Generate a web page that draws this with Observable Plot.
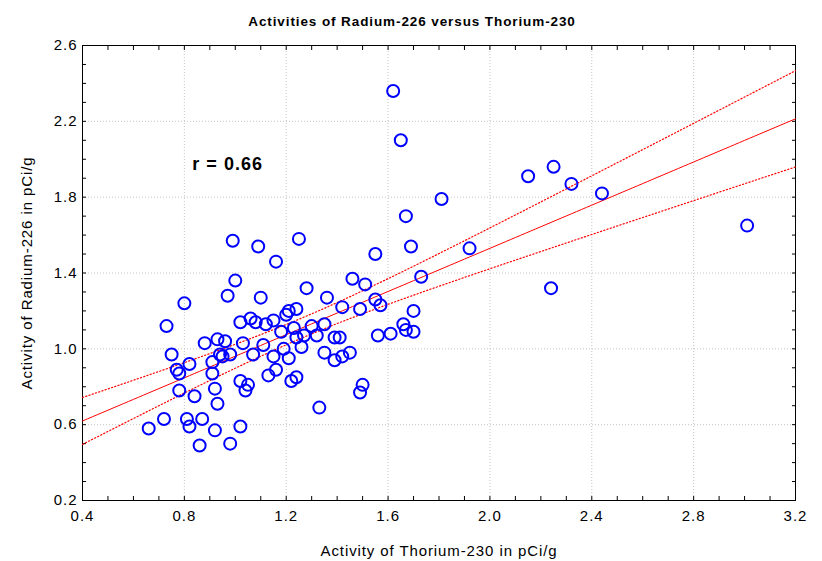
<!DOCTYPE html>
<html>
<head>
<meta charset="utf-8">
<script src="https://cdn.jsdelivr.net/npm/d3@7"></script>
<script src="https://cdn.jsdelivr.net/npm/@observablehq/plot@0.6"></script>
<style>
  html, body { margin: 0; padding: 0; background: #fff; }
  g[aria-label$="tick label"] text { letter-spacing: 1px; }
  g[aria-label$="axis label"] text { letter-spacing: 0.9px; }
  g.rlabel text { letter-spacing: 1px; }
  g.title text { letter-spacing: 0.9px; }
</style>
</head>
<body>
<div id="chart"></div>
<script>
// Activity of Thorium-230 (pCi/g)
const th230 = [
  1.62, 1.65, 1.81, 1.67, 1.69, 1.55, 1.92, 2.15, 2.25, 2.32,
  2.44, 3.01, 2.24, 1.46, 1.51, 1.73, 0.99, 1.09, 1.25, 1.16,
  1.00, 0.97, 1.10, 1.28, 1.36, 0.80, 1.55, 1.57, 1.42, 1.49,
  1.70, 1.24, 1.21, 1.20, 0.73, 1.02, 1.06, 1.08, 1.12, 1.15,
  1.18, 1.23, 1.30, 1.35, 1.24, 1.27, 1.32, 1.39, 1.41, 1.56,
  1.61, 1.66, 1.67, 1.70, 0.88, 0.93, 0.96, 1.03, 1.11, 1.26,
  1.19, 0.94, 0.98, 0.95, 1.07, 1.15, 1.21, 1.35, 1.39, 1.42,
  1.45, 0.75, 0.82, 0.91, 0.77, 0.78, 0.91, 1.13, 1.16, 1.22,
  1.24, 1.02, 1.05, 1.04, 1.50, 1.49, 0.78, 0.84, 0.92, 0.93,
  1.33, 0.72, 0.81, 0.87, 0.66, 0.82, 0.92, 1.02, 0.86, 0.98
];
// Activity of Radium-226 (pCi/g)
const ra226 = [
  2.36, 2.10, 1.79, 1.70, 1.54, 1.50, 1.53, 1.91, 1.96, 1.87,
  1.82, 1.65, 1.32, 1.37, 1.34, 1.38, 1.57, 1.54, 1.58, 1.46,
  1.36, 1.28, 1.27, 1.32, 1.27, 1.24, 1.26, 1.23, 1.22, 1.21,
  1.20, 1.21, 1.20, 1.18, 1.12, 1.14, 1.16, 1.14, 1.13, 1.15,
  1.09, 1.11, 1.12, 1.13, 1.06, 1.07, 1.07, 1.06, 1.06, 1.07,
  1.08, 1.13, 1.10, 1.09, 1.03, 1.05, 1.04, 1.03, 1.02, 1.01,
  1.00, 0.97, 0.97, 0.96, 0.97, 0.96, 0.95, 0.98, 0.94, 0.96,
  0.98, 0.97, 0.92, 0.93, 0.89, 0.87, 0.87, 0.86, 0.89, 0.83,
  0.85, 0.83, 0.81, 0.78, 0.81, 0.77, 0.78, 0.75, 0.79, 0.71,
  0.69, 0.63, 0.63, 0.63, 0.58, 0.59, 0.57, 0.59, 0.49, 0.50
];
const xTicks = [0.4, 0.8, 1.2, 1.6, 2.0, 2.4, 2.8, 3.2];
const yTicks = [0.2, 0.6, 1.0, 1.4, 1.8, 2.2, 2.6];
const xMinor = d3.range(4, 33).map(d => d / 10);
const yMinor = d3.range(2, 27).map(d => d / 10);
const titleText = "Activities of Radium-226 versus Thorium-230";
const xLabel = "Activity of Thorium-230 in pCi/g";
const yLabel = "Activity of Radium-226 in pCi/g";
const rText = "r = 0.66";
const rPos = {x: 0.97, y: 1.975};
const tCrit = 1.984; // 95% two-sided, df = 98

const data = th230.map((x, i) => ({x, y: ra226[i]}));

// least-squares fit and 95% confidence band for the mean
const n = data.length;
const mx = d3.mean(data, d => d.x), my = d3.mean(data, d => d.y);
const sxx = d3.sum(data, d => (d.x - mx) ** 2);
const sxy = d3.sum(data, d => (d.x - mx) * (d.y - my));
const slope = sxy / sxx, intercept = my - slope * mx;
const s = Math.sqrt(d3.sum(data, d => (d.y - intercept - slope * d.x) ** 2) / (n - 2));
const fit = d3.range(0, 141).map(i => {
  const x = 0.4 + i * 0.02;
  const yh = intercept + slope * x;
  const h = tCrit * s * Math.sqrt(1 / n + (x - mx) ** 2 / sxx);
  return {x, y: yh, lo: yh - h, hi: yh + h};
});

const font = "'Liberation Sans', Arial, Helvetica, sans-serif";
const noText = () => "";

const chart = Plot.plot({
  width: 822,
  height: 561,
  marginLeft: 82,
  marginRight: 27,
  marginTop: 45,
  marginBottom: 61,
  style: {fontFamily: font, fontSize: "15px", color: "#000", background: "#fff"},
  x: {domain: [0.4, 3.2]},
  y: {domain: [0.2, 2.6]},
  marks: [
    Plot.gridX(xTicks, {stroke: "#c4c4c4", strokeOpacity: 1, strokeDasharray: "1,2"}),
    Plot.gridY(yTicks, {stroke: "#c4c4c4", strokeOpacity: 1, strokeDasharray: "1,2"}),
    // inward minor/major ticks on all four sides
    Plot.axisX(xMinor, {anchor: "bottom", tickSize: 4, dy: -4, tickFormat: noText, label: null}),
    Plot.axisX(xMinor, {anchor: "top", tickSize: 4, dy: 4, tickFormat: noText, label: null}),
    Plot.axisY(yMinor, {anchor: "left", tickSize: 4, dx: 4, tickFormat: noText, label: null}),
    Plot.axisY(yMinor, {anchor: "right", tickSize: 4, dx: -4, tickFormat: noText, label: null}),
    // labels
    Plot.axisX(xTicks, {anchor: "bottom", tickSize: 0, tickPadding: 10, tickFormat: d3.format(".1f"), fontSize: 15,
      label: xLabel, labelAnchor: "center", labelOffset: 55, labelArrow: "none"}),
    Plot.axisY(yTicks, {anchor: "left", tickSize: 0, tickPadding: 5, tickFormat: d3.format(".1f"), fontSize: 15,
      label: yLabel, labelAnchor: "center", labelOffset: 61, labelArrow: "none"}),
    Plot.frame({stroke: "#000", strokeWidth: 1}),
    Plot.line(fit, {x: "x", y: "hi", stroke: "#ff0000", strokeWidth: 1.2, strokeDasharray: "1.2,2.2"}),
    Plot.line(fit, {x: "x", y: "lo", stroke: "#ff0000", strokeWidth: 1.2, strokeDasharray: "1.2,2.2"}),
    Plot.line(fit, {x: "x", y: "y", stroke: "#ff0000", strokeWidth: 1}),
    Plot.dot(data, {x: "x", y: "y", r: 6, stroke: "#0000ff", strokeWidth: 2, fill: "none"}),
    Plot.text([rText], {x: () => rPos.x, y: () => rPos.y, text: d => d, fontSize: 18, fontWeight: "bold",
      textAnchor: "middle", className: "rlabel"}),
    Plot.text([titleText], {frameAnchor: "top", text: d => d, dx: -27, dy: -29, fontSize: 13.5, fontWeight: "bold",
      className: "title"})
  ]
});
document.getElementById("chart").appendChild(chart);
</script>
</body>
</html>
